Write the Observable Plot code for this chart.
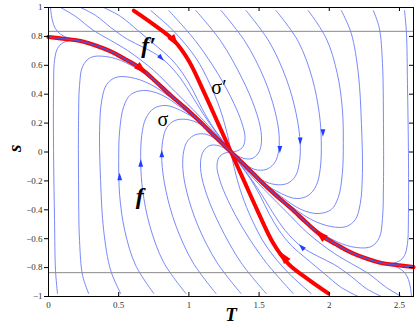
<!DOCTYPE html>
<html><head><meta charset="utf-8">
<script src="https://cdn.jsdelivr.net/npm/d3@7"></script>
<script src="https://cdn.jsdelivr.net/npm/@observablehq/plot@0.6"></script>
<style>body{margin:0;background:#fff;overflow:hidden}</style>
</head><body><div id="chart"></div>
<script>
// ---- tick data ----
const xTicks = [0, 0.5, 1, 1.5, 2, 2.5];
const xTickLabels = ["0", "0.5", "1", "1.5", "2", "2.5"];
const yTicks = [1, 0.8, 0.6, 0.4, 0.2, 0, -0.2, -0.4, -0.6, -0.8, -1];
const yTickLabels = ["1", "0.8", "0.6", "0.4", "0.2", "0", "\u22120.2", "\u22120.4", "\u22120.6", "\u22120.8", "\u22121"];
const levelLines = [0.835, -0.835];

// ---- red curves [T, s] ----
const curveF = [[0,0.796],[0.121,0.782],[0.229,0.768],[0.336,0.737],[0.443,0.696],[0.55,0.640],[0.657,0.578],[0.764,0.488],[0.871,0.391],[0.979,0.301],[1.086,0.204],[1.193,0.10],[1.3,0],
  [1.407,-0.10],[1.514,-0.204],[1.621,-0.301],[1.729,-0.391],[1.836,-0.488],[1.943,-0.578],[2.05,-0.640],[2.157,-0.696],[2.264,-0.737],[2.371,-0.768],[2.479,-0.782],[2.6,-0.796]];
const curveSigmaPrime = [[0.607,0.979],[0.75,0.882],[0.893,0.772],[1.0,0.63],[1.114,0.40],[1.207,0.20],[1.3,0],[1.393,-0.20],[1.486,-0.40],[1.60,-0.63],[1.707,-0.772],[1.85,-0.882],[1.993,-0.979]];

// ---- blue streamlines [T, s] ----
const streamL1 = [[0.064,-0.979],[0.05,-0.82],[0.043,-0.474],[0.036,0.01],[0.036,0.426],[0.043,0.633],[0.064,0.716],[0.107,0.758],[0.193,0.772],[0.336,0.737]];
const streamL2 = [[0.286,-0.979],[0.243,-0.855],[0.221,-0.612],[0.214,-0.197],[0.214,0.218],[0.221,0.460],[0.243,0.592],[0.3,0.654],[0.407,0.661],[0.55,0.619],[0.729,0.509],[0.907,0.356]];
const streamL3 = [[0.514,-0.979],[0.443,-0.820],[0.393,-0.543],[0.371,-0.197],[0.364,0.149],[0.379,0.356],[0.414,0.467],[0.479,0.516],[0.586,0.516],[0.729,0.467],[0.907,0.349],[1.086,0.204]];
const streamL4 = [[0.75,-0.979],[0.621,-0.785],[0.543,-0.543],[0.507,-0.301],[0.5,-0.059],[0.507,0.149],[0.536,0.315],[0.586,0.398],[0.679,0.426],[0.8,0.398],[0.943,0.308],[1.086,0.197],[1.2,0.097]];
const streamL5 = [[0.979,-0.979],[0.821,-0.765],[0.721,-0.509],[0.671,-0.266],[0.657,-0.080],[0.664,0.114],[0.693,0.232],[0.75,0.301],[0.836,0.322],[0.943,0.287],[1.071,0.211],[1.193,0.10],[1.3,0]];
const streamL6 = [[1.193,-0.979],[1.029,-0.765],[0.907,-0.509],[0.836,-0.266],[0.807,-0.059],[0.814,0.080],[0.843,0.170],[0.9,0.218],[0.986,0.225],[1.086,0.190],[1.193,0.10],[1.3,0]];
const streamL7 = [[1.371,-0.979],[1.2,-0.765],[1.064,-0.509],[0.986,-0.280],[0.957,-0.114],[0.964,0.010],[0.993,0.080],[1.05,0.121],[1.129,0.121],[1.214,0.073],[1.3,0]];
const streamL8 = [[1.55,-0.979],[1.371,-0.765],[1.221,-0.509],[1.129,-0.301],[1.086,-0.142],[1.086,-0.045],[1.107,0.010],[1.15,0.045],[1.207,0.045],[1.257,0.024],[1.3,0]];
const streamL9 = [[1.743,-0.979],[1.55,-0.765],[1.386,-0.530],[1.279,-0.336],[1.221,-0.197],[1.2,-0.100],[1.214,-0.038],[1.25,-0.010],[1.3,0]];
const streamL10 = [[1.871,-0.979],[1.707,-0.835],[1.55,-0.65],[1.45,-0.47],[1.379,-0.30],[1.336,-0.16],[1.314,-0.07],[1.3,0]];
const streamR1 = [[2.536,0.979],[2.55,0.82],[2.557,0.474],[2.564,-0.01],[2.564,-0.426],[2.557,-0.633],[2.536,-0.716],[2.493,-0.758],[2.407,-0.772],[2.264,-0.737]];
const streamR2 = [[2.314,0.979],[2.357,0.855],[2.379,0.612],[2.386,0.197],[2.386,-0.218],[2.379,-0.460],[2.357,-0.592],[2.3,-0.654],[2.193,-0.661],[2.05,-0.619],[1.871,-0.509],[1.693,-0.356]];
const streamR3 = [[2.086,0.979],[2.157,0.820],[2.207,0.543],[2.229,0.197],[2.236,-0.149],[2.221,-0.356],[2.186,-0.467],[2.121,-0.516],[2.014,-0.516],[1.871,-0.467],[1.693,-0.349],[1.514,-0.204]];
const streamR4 = [[1.85,0.979],[1.979,0.785],[2.057,0.543],[2.093,0.301],[2.1,0.059],[2.093,-0.149],[2.064,-0.315],[2.014,-0.398],[1.921,-0.426],[1.8,-0.398],[1.657,-0.308],[1.514,-0.197],[1.4,-0.097]];
const streamR5 = [[1.621,0.979],[1.779,0.765],[1.879,0.509],[1.929,0.266],[1.943,0.080],[1.936,-0.114],[1.907,-0.232],[1.85,-0.301],[1.764,-0.322],[1.657,-0.287],[1.529,-0.211],[1.407,-0.10],[1.3,0]];
const streamR6 = [[1.407,0.979],[1.571,0.765],[1.693,0.509],[1.764,0.266],[1.793,0.059],[1.786,-0.080],[1.757,-0.170],[1.7,-0.218],[1.614,-0.225],[1.514,-0.190],[1.407,-0.10],[1.3,0]];
const streamR7 = [[1.229,0.979],[1.4,0.765],[1.536,0.509],[1.614,0.280],[1.643,0.114],[1.636,-0.010],[1.607,-0.080],[1.55,-0.121],[1.471,-0.121],[1.386,-0.073],[1.3,0]];
const streamR8 = [[1.05,0.979],[1.229,0.765],[1.379,0.509],[1.471,0.301],[1.514,0.142],[1.514,0.045],[1.493,-0.010],[1.45,-0.045],[1.393,-0.045],[1.343,-0.024],[1.3,0]];
const streamR9 = [[0.857,0.979],[1.05,0.765],[1.214,0.530],[1.321,0.336],[1.379,0.197],[1.4,0.100],[1.386,0.038],[1.35,0.010],[1.3,0]];
const streamR10 = [[0.729,0.979],[0.893,0.835],[1.05,0.65],[1.15,0.47],[1.221,0.30],[1.264,0.16],[1.286,0.07],[1.3,0]];
const streamU0 = [[0.014,1.0],[0.021,0.945],[0.036,0.882],[0.064,0.834],[0.114,0.799],[0.193,0.779],[0.3,0.758]];
const streamU1 = [[0.086,1.0],[0.193,0.938],[0.321,0.841],[0.443,0.772],[0.564,0.702],[0.75,0.564],[0.907,0.412],[1.036,0.287],[1.171,0.149],[1.3,0]];
const streamU2 = [[0.229,1.0],[0.336,0.945],[0.443,0.862],[0.564,0.779],[0.679,0.723],[0.8,0.654],[0.914,0.543],[1.007,0.412],[1.1,0.266],[1.2,0.128],[1.3,0]];
const streamU3 = [[0.393,1.0],[0.514,0.938],[0.636,0.841],[0.764,0.737],[0.871,0.647],[0.957,0.543],[1.029,0.426],[1.093,0.301],[1.164,0.183],[1.236,0.086],[1.3,0]];
const streamD0 = [[2.586,-1.0],[2.579,-0.945],[2.564,-0.882],[2.536,-0.834],[2.486,-0.799],[2.407,-0.779],[2.3,-0.758]];
const streamD1 = [[2.514,-1.0],[2.407,-0.938],[2.279,-0.841],[2.157,-0.772],[2.036,-0.702],[1.85,-0.564],[1.693,-0.412],[1.564,-0.287],[1.429,-0.149],[1.3,0]];
const streamD2 = [[2.371,-1.0],[2.264,-0.945],[2.157,-0.862],[2.036,-0.779],[1.921,-0.723],[1.8,-0.654],[1.686,-0.543],[1.593,-0.412],[1.5,-0.266],[1.4,-0.128],[1.3,0]];
const streamD3 = [[2.207,-1.0],[2.086,-0.938],[1.964,-0.841],[1.836,-0.737],[1.729,-0.647],[1.643,-0.543],[1.571,-0.426],[1.507,-0.301],[1.436,-0.183],[1.364,-0.086],[1.3,0]];

// ---- arrows: [T, s, towardT, towardS] ----
const redArrows = [[0.657,0.578,0.764,0.488],[1.943,-0.578,1.836,-0.488],[0.893,0.772,1.0,0.63],[1.679,-0.73,1.60,-0.63]];
const blueArrows = [[0.507,-0.175,0.507,-0.1],[0.657,-0.082,0.657,0],[0.807,-0.017,0.807,0.06],[0.8,0.654,0.914,0.543],
  [1.648,0.022,1.648,-0.05],[1.793,0.080,1.793,0],[1.955,0.137,1.955,0.06],[1.807,-0.661,1.686,-0.543]];

// ---- curve labels ----
const curveLabels = [
  {T:0.714, s:0.737, text:"f\u2032", kind:"f"},
  {T:0.65, s:-0.305, text:"f", kind:"f"},
  {T:1.214, s:0.445, text:"\u03C3\u2032", kind:"sigma"},
  {T:0.814, s:0.225, text:"\u03C3", kind:"sigma"}
];

// ---- layout ----
const W = 420, H = 328, mL = 48, mR = 7, mT = 7, mB = 32;
const xDomain = [0, 2.6], yDomain = [-1, 1];
const sx = d3.scaleLinear(xDomain, [mL, W - mR]);
const sy = d3.scaleLinear(yDomain, [H - mB, mT]);
const toArrow = a => ({T: a[0], s: a[1], angle: Math.atan2(sx(a[2]) - sx(a[0]), -(sy(a[3]) - sy(a[1]))) * 180 / Math.PI});

const streams = [streamL1,streamL2,streamL3,streamL4,streamL5,streamL6,streamL7,streamL8,streamL9,streamL10,
  streamR1,streamR2,streamR3,streamR4,streamR5,streamR6,streamR7,streamR8,streamR9,streamR10,
  streamU0,streamU1,streamU2,streamU3,streamD0,streamD1,streamD2,streamD3];
const streamRows = streams.flatMap((pts, i) => pts.map(([T, s]) => ({T, s, id: i})));
const rowsOf = pts => pts.map(([T, s]) => ({T, s}));

const arrowSymbol = {draw(ctx, size) {
  const r = Math.sqrt(size / Math.PI);
  ctx.moveTo(0, -1.4 * r); ctx.lineTo(0.75 * r, 0.9 * r); ctx.lineTo(-0.75 * r, 0.9 * r); ctx.closePath();
}};

const serif = "'Liberation Serif', 'DejaVu Serif', serif";

const chart = Plot.plot({
  width: W, height: H, marginLeft: mL, marginRight: mR, marginTop: mT, marginBottom: mB,
  x: {domain: xDomain, axis: null},
  y: {domain: yDomain, axis: null},
  style: {background: "#fff"},
  marks: [
    Plot.line(streamRows, {x: "T", y: "s", z: "id", stroke: "#6a7cf8", strokeWidth: 0.9, curve: "catmull-rom"}),
    Plot.ruleY(levelLines, {stroke: "#8a8a8a", strokeWidth: 1}),
    Plot.line(rowsOf(curveSigmaPrime), {x: "T", y: "s", stroke: "#ff0000", strokeWidth: 4, curve: "catmull-rom"}),
    Plot.line(rowsOf(curveF), {x: "T", y: "s", stroke: "#ff0000", strokeWidth: 4.2, curve: "catmull-rom"}),
    Plot.line(rowsOf(curveF), {x: "T", y: "s", stroke: "#4f55d8", strokeWidth: 1.4, curve: "catmull-rom"}),
    Plot.dot(redArrows.map(toArrow), {x: "T", y: "s", rotate: "angle", symbol: arrowSymbol, r: 5.6, fill: "#ff0000", stroke: "none"}),
    Plot.dot(blueArrows.map(toArrow), {x: "T", y: "s", rotate: "angle", symbol: arrowSymbol, r: 3.2, fill: "#1f3dff", stroke: "none"}),
    Plot.text(curveLabels.filter(d => d.kind === "f"), {x: "T", y: "s", text: "text", fontFamily: serif, fontSize: 24, fontWeight: "bold", fontStyle: "italic", fill: "#000"}),
    Plot.text(curveLabels.filter(d => d.kind === "sigma"), {x: "T", y: "s", text: "text", fontFamily: serif, fontSize: 20, fill: "#000"}),
    Plot.frame({stroke: "#000", strokeWidth: 1}),
    // ticks
    Plot.ruleX(xTicks, {x: d => d, y1: yDomain[0], y2: yDomain[0], insetTop: -4, stroke: "#000"}),
    Plot.ruleX(xTicks, {x: d => d, y1: yDomain[1], y2: yDomain[1], insetBottom: -4, stroke: "#000"}),
    Plot.ruleY(yTicks, {y: d => d, x1: xDomain[0], x2: xDomain[0], insetLeft: -4, stroke: "#000"}),
    Plot.ruleY(yTicks, {y: d => d, x1: xDomain[1], x2: xDomain[1], insetLeft: -4, stroke: "#000"}),
    // tick labels
    Plot.text(xTicks, {x: d => d, y: yDomain[0], dy: 9, text: (d, i) => xTickLabels[i], fontFamily: serif, fontSize: 9, fill: "#333"}),
    Plot.text(yTicks, {x: xDomain[0], y: d => d, dx: -6, text: (d, i) => yTickLabels[i], textAnchor: "end", fontFamily: serif, fontSize: 9, fill: "#333"}),
    // axis titles
    Plot.text(["T"], {frameAnchor: "bottom", dy: 24, text: d => d, fontFamily: serif, fontSize: 19, fontWeight: "bold", fontStyle: "italic", fill: "#000"}),
    Plot.text(["s"], {frameAnchor: "left", dx: -34, text: d => d, rotate: -90, fontFamily: serif, fontSize: 19, fontWeight: "bold", fontStyle: "italic", fill: "#000"})
  ]
});
document.getElementById("chart").appendChild(chart);
</script>
</body></html>
